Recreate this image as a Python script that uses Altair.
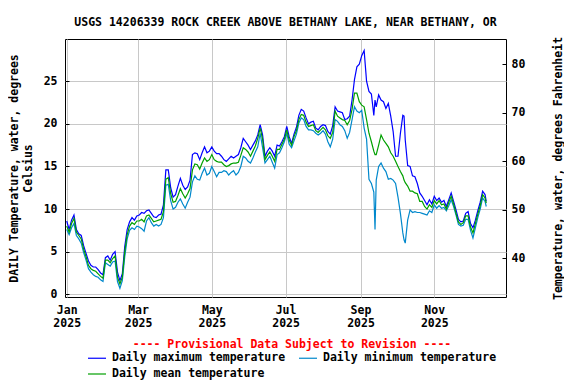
import altair as alt
import pandas as pd

# ---- data (day offset from 2025-01-01) ----
days = [0, 2, 4, 6, 8, 10, 12, 14, 16, 18, 20, 22, 24, 26, 28, 30, 32, 34, 36, 38,
        40, 42, 44, 46, 48, 50, 52, 54, 56, 58, 60, 62, 64, 66, 68, 70, 72, 74, 76, 78,
        80, 82, 84, 86, 88, 90, 92, 94, 96, 98, 100, 102, 104, 106, 108, 110, 112, 114, 116, 118,
        120, 122, 124, 126, 128, 130, 132, 134, 136, 138, 140, 142, 144, 146, 148, 150, 152, 154, 156, 158,
        160, 162, 164, 166, 168, 170, 172, 174, 176, 178, 180, 182, 184, 186, 188, 190, 192, 194, 196, 198,
        200, 202, 204, 206, 208, 210, 212, 214, 216, 218, 220, 222, 224, 226, 228, 230, 232, 234, 236, 238,
        240, 242, 244, 246, 248, 250, 252, 254, 255, 256, 258, 260, 262, 264, 266, 268, 270, 272, 274, 276,
        278, 279, 280, 282, 284, 286, 288, 290, 292, 294, 296, 298, 300, 302, 304, 306, 308, 310, 312, 314,
        316, 318, 320, 322, 324, 326, 328, 330, 332, 334, 336, 338, 340, 342, 344, 346, 347]

t_max = [8.6, 7.6, 8.7, 9.3, 7.6, 7.1, 6.9, 5.7, 4.8, 3.9, 3.4, 3.2, 3.2, 2.9, 2.5, 2.3, 4.3, 4.5, 4.0, 4.7,
         5.0, 2.6, 1.6, 2.4, 5.6, 7.6, 8.5, 9.0, 8.7, 9.2, 9.3, 9.6, 9.5, 9.8, 9.9, 9.5, 9.1, 9.0, 9.3, 9.4,
         10.5, 14.6, 14.6, 12.5, 11.4, 11.7, 12.7, 13.6, 12.8, 12.3, 12.6, 13.4, 16.4, 16.6, 16.5, 15.8, 16.6, 17.3, 16.6, 16.8,
         17.3, 16.8, 16.5, 16.5, 16.2, 15.8, 15.6, 15.9, 16.2, 16.0, 16.2, 16.4, 17.2, 18.3, 17.9, 17.5, 17.0, 17.5, 18.0, 18.7,
         19.9, 18.7, 16.2, 16.8, 17.2, 16.8, 16.2, 17.5, 17.4, 17.9, 18.5, 19.7, 18.5, 17.7, 18.8, 19.6, 21.0, 21.7, 21.5, 20.7,
         20.0, 20.2, 20.3, 19.5, 19.3, 19.7, 19.9, 19.8, 19.1, 18.8, 19.8, 22.0, 21.5, 21.4, 21.3, 20.5, 20.6, 20.9, 22.8, 25.2,
         26.7, 27.0, 28.0, 28.6, 25.0, 23.8, 23.5, 21.0, 22.8, 22.0, 23.4, 22.8, 22.6, 21.8, 22.4, 20.9, 19.1, 16.2, 16.2, 18.9,
         21.0, 20.9, 18.1, 15.1, 15.0, 13.9, 13.8, 13.0, 11.9, 11.5, 11.0, 10.5, 11.1, 10.6, 11.5, 11.0, 11.3, 10.8, 11.0, 10.3,
         11.1, 11.9, 10.9, 9.9, 8.8, 8.5, 8.6, 9.5, 9.7, 8.3, 7.8, 8.7, 9.8, 10.8, 12.1, 11.7, 10.9]

t_mean = [8.0, 7.3, 8.3, 8.9, 7.3, 6.9, 6.5, 5.3, 4.4, 3.4, 3.0, 2.8, 2.7, 2.4, 2.1, 1.9, 4.0, 4.0, 3.7, 4.2,
          4.5, 2.0, 1.2, 2.0, 5.0, 7.0, 8.0, 8.4, 8.2, 8.6, 8.6, 8.8, 8.5, 9.2, 9.3, 8.9, 8.5, 8.6, 8.7, 8.8,
          9.7, 13.5, 13.7, 11.8, 10.8, 10.9, 11.6, 12.4, 11.8, 11.3, 11.8, 12.4, 14.6, 15.3, 15.2, 14.7, 15.4, 16.0, 15.6, 15.8,
          16.4, 15.8, 15.6, 15.5, 15.5, 15.2, 15.0, 15.1, 15.3, 15.4, 15.4, 15.5, 16.3, 17.2, 17.0, 16.7, 16.2, 16.8, 17.4, 18.3,
          19.5, 18.2, 15.8, 16.3, 16.7, 16.2, 15.6, 17.0, 17.0, 17.6, 18.2, 19.3, 18.1, 17.5, 18.5, 19.2, 20.5, 21.1, 21.0, 20.2,
          19.7, 19.8, 19.9, 19.2, 19.0, 19.3, 19.6, 19.3, 18.6, 18.3, 19.0, 21.5, 20.9, 20.7, 20.5, 20.4, 19.9, 20.4, 21.7, 23.6,
          23.6, 22.6, 22.2, 22.0, 20.5, 18.9, 17.9, 16.8, 16.4, 16.4, 17.5, 18.7, 18.1, 17.7, 17.3, 16.6, 16.2, 15.6, 15.0, 14.4,
          13.9, 13.4, 13.1, 12.7, 12.1, 12.1, 11.9, 11.8, 10.9, 10.9, 10.3, 10.0, 10.5, 10.2, 11.0, 10.6, 11.0, 10.5, 10.6, 10.0,
          10.8, 11.5, 10.6, 9.5, 8.5, 8.2, 8.4, 9.2, 9.2, 7.9, 7.2, 8.3, 9.4, 10.4, 11.7, 11.3, 10.7]

t_min = [7.6, 7.0, 7.8, 8.3, 6.9, 6.5, 6.0, 4.9, 4.0, 3.0, 2.6, 2.3, 2.1, 2.0, 1.7, 1.5, 3.7, 3.5, 3.3, 3.8,
         3.9, 1.5, 0.7, 1.6, 4.4, 6.5, 7.5, 7.8, 7.6, 8.0, 7.9, 7.7, 7.4, 8.6, 9.0, 8.4, 8.0, 8.2, 8.0, 8.2,
         9.0, 12.8, 12.9, 11.0, 10.0, 10.2, 10.8, 11.2, 10.6, 10.1, 10.8, 11.4, 13.2, 13.9, 13.5, 13.4, 14.2, 14.8, 14.0, 14.2,
         15.0, 14.4, 13.8, 14.3, 14.3, 14.5, 14.4, 14.0, 14.3, 14.5, 14.0, 14.3, 15.0, 16.2, 16.0, 15.6, 15.4, 16.0, 16.7, 17.3,
         18.9, 17.2, 15.4, 15.8, 16.2, 15.5, 14.8, 16.4, 16.6, 17.2, 17.9, 18.9, 17.6, 17.2, 18.0, 18.8, 20.1, 20.7, 20.5, 19.7,
         19.3, 19.3, 19.2, 18.9, 18.7, 18.9, 19.2, 18.8, 17.9, 17.3, 18.2, 20.5, 20.3, 19.9, 19.7, 19.2, 18.3, 19.0, 20.5, 22.0,
         21.5, 21.3, 21.6, 19.5, 18.2, 13.5, 13.0, 12.0, 7.6, 13.4, 15.0, 15.4, 14.8, 14.4, 13.5, 13.6, 13.4, 13.0, 11.4, 9.5,
         7.2, 6.4, 6.0, 8.7, 9.9, 9.6, 9.7, 9.6, 9.6, 9.5, 9.4, 9.3, 9.8, 9.6, 10.5, 10.1, 10.4, 10.1, 10.2, 9.8,
         10.4, 11.1, 10.3, 9.3, 8.2, 8.0, 8.1, 8.8, 8.8, 7.5, 6.6, 7.8, 9.0, 10.0, 11.3, 10.9, 10.3]

right_ticks_f = [40, 50, 60, 70, 80]
left_ticks_c = [0, 5, 10, 15, 20, 25]
month_ticks = [1, 3, 5, 7, 9, 11]

series_names = ["Daily maximum temperature", "Daily minimum temperature", "Daily mean temperature"]
series_colors = ["#0000FF", "#0088CC", "#00A000"]

base_date = pd.Timestamp("2025-01-01")
dates = [(base_date + pd.Timedelta(days=d)).strftime("%Y-%m-%dT%H:%M:%S") for d in days]

rows = []
for name, vals in zip(series_names, [t_max, t_min, t_mean]):
    for dt, v in zip(dates, vals):
        rows.append({"date": dt, "series": name, "value": v})
df = pd.DataFrame(rows)

FONT = "DejaVu Sans Mono"
FS = 11.5

x_enc = alt.X(
    "date:T",
    scale=alt.Scale(domain=[alt.DateTime(year=2024, month=12, date=30, hours=14),
                            alt.DateTime(year=2025, month=12, date=30, hours=8)]),
    axis=alt.Axis(
        values=[alt.DateTime(year=2025, month=m, date=1) for m in month_ticks],
        labelExpr="[timeFormat(datum.value, '%b'), timeFormat(datum.value, '%Y')]",
        title=None, grid=True, ticks=False, domain=False,
        labelPadding=7, labelLineHeight=13, labelFlush=False, labelOverlap=False,
    ),
)

lines = alt.Chart(df).mark_line(strokeWidth=1.2).encode(
    x=x_enc,
    y=alt.Y(
        "value:Q",
        scale=alt.Scale(domain=[-0.32, 29.96], nice=False, zero=False),
        axis=alt.Axis(
            values=left_ticks_c, grid=True, offset=-4, tickSize=4, labelPadding=8,
            title=["DAILY Temperature, water, degrees", "Celsius"],
            titleAngle=270, titleX=-54.5, titleY=129, titleAlign="center",
            titleBaseline="middle", titleLineHeight=14,
        ),
    ),
    color=alt.Color(
        "series:N",
        scale=alt.Scale(domain=series_names, range=series_colors),
        legend=alt.Legend(
            values=series_names,
            title="---- Provisional Data Subject to Revision ----",
            titleColor="red", titleFont=FONT, titleFontSize=FS, titleFontWeight="bold",
            titleAnchor="middle", titlePadding=-2.5, titleLimit=500,
            orient="none", legendX=22, legendY=300, columns=2, direction="horizontal",
            symbolType="stroke", symbolSize=324, symbolStrokeWidth=1.2,
            labelFont=FONT, labelFontSize=FS, labelFontWeight="bold", labelColor="black",
            labelLimit=400, columnPadding=10, rowPadding=-3.5, labelOffset=5,
        ),
    ),
)

rdf = pd.DataFrame({"f": right_ticks_f})
right = alt.Chart(rdf).mark_tick(opacity=0).encode(
    y=alt.Y(
        "f:Q",
        scale=alt.Scale(domain=[32.03, 85.15], nice=False, zero=False),
        axis=alt.Axis(
            orient="right", values=right_ticks_f, grid=False, offset=-4, tickSize=4, labelPadding=5,
            title="Temperature, water, degrees Fahrenheit",
            titleAngle=270, titleX=56, titleY=129, titleAlign="center", titleBaseline="middle",
        ),
    ),
)

chart = (
    alt.layer(lines, right)
    .resolve_scale(y="independent")
    .properties(
        width=441, height=258,
        autosize=alt.AutoSizeParams(type="none"),
        padding={"left": 57, "top": 31, "right": 58, "bottom": 84},
        title=alt.Title(
            "USGS 14206339 ROCK CREEK ABOVE BETHANY LAKE, NEAR BETHANY, OR",
            font=FONT, fontSize=FS, fontWeight="bold", anchor="middle",
            baseline="alphabetic", offset=14, dy=15, color="black",
        ),
    )
    .configure_view(stroke="black", strokeWidth=1)
    .configure_axis(
        labelFont=FONT, labelFontSize=FS, labelFontWeight="bold", labelColor="black",
        titleFont=FONT, titleFontSize=FS, titleFontWeight="bold", titleColor="black",
        gridColor="#c8c8c8", gridWidth=1, domain=False, tickColor="black",
    )
)

chart.save("out.html", embed_options={"renderer": "svg", "actions": False})
